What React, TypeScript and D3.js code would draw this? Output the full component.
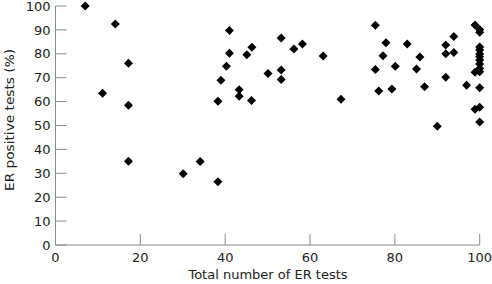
import React from "react";
import * as d3 from "d3";

const xTicks = [0, 20, 40, 60, 80, 100];
const yTicks = [0, 10, 20, 30, 40, 50, 60, 70, 80, 90, 100];

const totalTests = [
  7, 14.1, 17.2, 11.1, 17.2, 17.2,
  30.1, 34.1, 38.3,
  41, 41, 40.3, 39, 38.3, 43.3, 43.3, 46.2, 45.1, 46.3, 50.1, 53.2, 53.2, 53.2, 56.2, 58.2, 63.1,
  67.3, 75.4, 77.9, 77.2, 75.4, 80.1, 76.2, 79.3, 82.9, 85.9, 85.1, 87, 90, 92, 92, 93.9, 93.9, 92, 96.9,
  98.9, 100, 100, 100, 100, 100, 100, 100, 100, 100, 100, 98.9, 100, 98.9, 100, 100,
];
const erPositive = [
  100, 92.5, 76, 63.5, 58.5, 35,
  29.8, 34.9, 26.5,
  89.8, 80.2, 74.8, 68.9, 60.1, 65, 62.2, 60.5, 79.6, 82.7, 71.8, 73.2, 69.2, 86.6, 82, 84.1, 79.1,
  61, 91.9, 84.6, 79.2, 73.4, 74.8, 64.4, 65.3, 84.1, 78.7, 73.6, 66.2, 49.7, 83.7, 80, 87.2, 80.5, 70.2, 66.8,
  92, 90.2, 89, 82.8, 81.6, 79.9, 78.8, 77.4, 75.7, 73.9, 72.5, 72.3, 65.8, 56.8, 57.6, 51.5,
];

const W = 492, H = 284;
const FONT = "'DejaVu Sans', sans-serif";

export default function App() {
  const x = d3.scaleLinear().domain([0, 100]).range([55.5, 479.7]);
  const y = d3.scaleLinear().domain([0, 100]).range([245, 6]);
  const axisColor = "#8a8a8a";
  const r = 4.5;
  const diamond = `M0,${-r}L${r},0L0,${r}L${-r},0Z`;
  return (
    <svg width={W} height={H} style={{ position: "absolute", left: 0, top: 0, background: "#fff" }}>
      <line x1={x(0)} x2={x(0)} y1={y(100)} y2={y(0)} stroke={axisColor} strokeWidth={1} />
      <line x1={x(0)} x2={x(100)} y1={y(0)} y2={y(0)} stroke={axisColor} strokeWidth={1} />
      {yTicks.map((t) => (
        <g key={"y" + t}>
          <line x1={x(0)} x2={x(0) + 11} y1={y(t)} y2={y(t)} stroke={axisColor} strokeWidth={1} />
          <text x={x(0) - 5} y={y(t)} dy="0.36em" textAnchor="end" fontFamily={FONT} fontSize={13} fill="#222">
            {t}
          </text>
        </g>
      ))}
      {xTicks.map((t) => (
        <g key={"x" + t}>
          {t > 0 && <line x1={x(t)} x2={x(t)} y1={y(0)} y2={y(0) - 11} stroke={axisColor} strokeWidth={1} />}
          <text x={x(t)} y={y(0) + 17} textAnchor="middle" fontFamily={FONT} fontSize={13} fill="#222">
            {t}
          </text>
        </g>
      ))}
      <text x={268} y={279} textAnchor="middle" fontFamily={FONT} fontSize={13} fill="#222">
        Total number of ER tests
      </text>
      <text
        transform={`translate(14,120) rotate(-90)`}
        textAnchor="middle"
        fontFamily={FONT}
        fontSize={13}
        textLength={142}
        lengthAdjust="spacingAndGlyphs"
        fill="#222"
      >
        ER positive tests (%)
      </text>
      {totalTests.map((v, i) => (
        <path key={i} d={diamond} transform={`translate(${x(v)},${y(erPositive[i])})`} fill="#000" />
      ))}
    </svg>
  );
}
